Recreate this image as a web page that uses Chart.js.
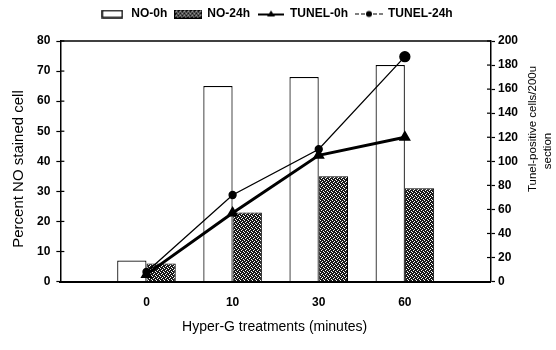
<!DOCTYPE html>
<html>
<head>
<meta charset="utf-8">
<script src="https://cdn.jsdelivr.net/npm/chart.js@4.4.0/dist/chart.umd.min.js"></script>
<style>
html, body { margin: 0; padding: 0; background: #fff; }
#wrap { width: 556px; height: 350px; }
</style>
</head>
<body>
<div id="wrap"><canvas id="myChart"></canvas></div>
<script>
const categories = ['0', '10', '30', '60'];
const noZero = [7, 65, 68, 72];        // % NO stained, 0h
const noDay = [6, 23, 35, 31];         // % NO stained, 24h
const tunelZero = [6, 57, 105, 120];   // tunel-positive cells, 0h
const tunelDay = [8, 72, 110, 187];    // tunel-positive cells, 24h

const FONT = 'Liberation Sans, Arial, sans-serif';

// empty slot on each side, like the original axis
const labels = ['', ...categories, ''];
const pad = arr => [null, ...arr, null];

function hatchPattern() {
    const c = document.createElement('canvas');
    c.width = 4; c.height = 4;
    const g = c.getContext('2d');
    g.fillStyle = '#1a1a1a';
    g.fillRect(0, 0, 4, 4);
    g.fillStyle = '#fff';
    [[0, 0], [2, 1], [1, 2], [3, 3]].forEach(p => g.fillRect(p[0], p[1], 1, 1));
    return c;
}
const hatchTile = hatchPattern();
const hatch = document.createElement('canvas').getContext('2d').createPattern(hatchTile, 'repeat');

function icon(w, h, draw) {
    const c = document.createElement('canvas');
    c.width = w; c.height = h;
    draw(c.getContext('2d'), w, h);
    return c;
}
const iconNoZero = icon(22, 9, (g, w, h) => {
    g.fillStyle = '#fff'; g.fillRect(0, 0, w, h);
    g.strokeStyle = '#000'; g.lineWidth = 1.5; g.strokeRect(1, 1, w - 2, h - 2);
});
const iconNoDay = icon(28, 9, (g, w, h) => {
    g.fillStyle = g.createPattern(hatchTile, 'repeat'); g.fillRect(0, 0, w, h);
    g.strokeStyle = '#000'; g.lineWidth = 1; g.strokeRect(0.5, 0.5, w - 1, h - 1);
});
const iconTunelZero = icon(26, 9, (g, w, h) => {
    g.strokeStyle = '#000'; g.lineWidth = 2;
    g.beginPath(); g.moveTo(0, 5); g.lineTo(w, 5); g.stroke();
    g.fillStyle = '#000';
    g.beginPath(); g.moveTo(w / 2, 1); g.lineTo(w / 2 + 4, 7); g.lineTo(w / 2 - 4, 7); g.closePath(); g.fill();
});
const iconTunelDay = icon(28, 9, (g, w, h) => {
    g.strokeStyle = '#000'; g.lineWidth = 1.2;
    g.setLineDash([4, 2]);
    g.beginPath(); g.moveTo(0, 4.5); g.lineTo(w, 4.5); g.stroke();
    g.fillStyle = '#000';
    g.beginPath(); g.arc(w / 2, 4.5, 3, 0, Math.PI * 2); g.fill();
});
const legendIcons = [iconNoZero, iconNoDay, iconTunelZero, iconTunelDay];

// a bit more room under the legend
const legendGap = {
    id: 'legendGap',
    beforeInit(chart) {
        const fit = chart.legend.fit;
        chart.legend.fit = function () {
            fit.bind(chart.legend)();
            this.height += 11;
        };
    }
};

// top frame line, inner half of the cross ticks and the axis titles
const framePlugin = {
    id: 'frame',
    afterDraw(chart) {
        const { ctx, chartArea: a, scales } = chart;
        ctx.save();
        ctx.strokeStyle = '#000';
        ctx.lineWidth = 1.5;
        ctx.beginPath();
        ctx.moveTo(a.left, a.top);
        ctx.lineTo(a.right, a.top);
        ctx.stroke();
        ctx.lineWidth = 1.2;
        scales.y.ticks.forEach(t => {
            const y = scales.y.getPixelForValue(t.value);
            ctx.beginPath(); ctx.moveTo(a.left, y); ctx.lineTo(a.left + 4, y); ctx.stroke();
        });
        scales.y1.ticks.forEach(t => {
            const y = scales.y1.getPixelForValue(t.value);
            ctx.beginPath(); ctx.moveTo(a.right - 4, y); ctx.lineTo(a.right, y); ctx.stroke();
        });

        ctx.fillStyle = '#000';
        ctx.textAlign = 'center';
        ctx.textBaseline = 'middle';

        ctx.font = '14px ' + FONT;
        ctx.fillText('Hyper-G treatments (minutes)', (a.left + a.right) / 2 - 1, 327);

        ctx.save();
        ctx.font = '15px ' + FONT;
        ctx.translate(19, 169);
        ctx.rotate(-Math.PI / 2);
        ctx.fillText('Percent NO stained cell', 0, 0);
        ctx.restore();

        ctx.save();
        ctx.font = '11.5px ' + FONT;
        ctx.translate(533, 129);
        ctx.rotate(-Math.PI / 2);
        ctx.fillText('Tunel-positive cells/200u', 0, 0);
        ctx.fillText('section', -22, 15);
        ctx.restore();

        ctx.restore();
    }
};

const tickFont = { family: FONT, size: 12, weight: 'bold' };

new Chart(document.getElementById('myChart'), {
    type: 'bar',
    data: {
        labels: labels,
        datasets: [{
            label: 'NO-0h',
            data: pad(noZero),
            backgroundColor: '#fff',
            borderColor: '#000',
            borderWidth: 1.2,
            yAxisID: 'y',
            order: 2
        }, {
            label: 'NO-24h',
            data: pad(noDay),
            backgroundColor: hatch,
            borderColor: '#000',
            borderWidth: 1,
            yAxisID: 'y',
            order: 2
        }, {
            type: 'line',
            label: 'TUNEL-0h',
            data: pad(tunelZero),
            borderColor: '#000',
            backgroundColor: '#000',
            borderWidth: 3,
            pointStyle: 'triangle',
            pointRadius: 4,
            tension: 0,
            yAxisID: 'y1',
            order: 1
        }, {
            type: 'line',
            label: 'TUNEL-24h',
            data: pad(tunelDay),
            borderColor: '#000',
            backgroundColor: '#000',
            borderWidth: 1.3,
            pointStyle: 'circle',
            pointRadius: [0, 3.5, 3.5, 3.5, 5, 0],
            tension: 0,
            yAxisID: 'y1',
            order: 1
        }]
    },
    options: {
        responsive: true,
        maintainAspectRatio: false,
        animation: false,
        layout: { padding: { left: 31, right: 35, top: 0, bottom: 26 } },
        datasets: {
            bar: { categoryPercentage: 0.68, barPercentage: 1 }
        },
        plugins: {
            tooltip: { enabled: false },
            legend: {
                position: 'top',
                labels: {
                    usePointStyle: true,
                    pointStyleWidth: 26,
                    boxHeight: 9,
                    padding: 8,
                    color: '#000',
                    font: { family: FONT, size: 12, weight: 'bold' },
                    generateLabels: chart => chart.data.datasets.map((ds, i) => ({
                        text: ds.label,
                        pointStyle: legendIcons[i],
                        fillStyle: '#fff',
                        strokeStyle: '#000',
                        lineWidth: 0,
                        fontColor: '#000',
                        datasetIndex: i
                    }))
                }
            }
        },
        scales: {
            x: {
                offset: false,
                grid: { display: false, drawTicks: false },
                border: { display: true, color: '#000', width: 2 },
                ticks: { padding: 14, color: '#000', font: tickFont, maxRotation: 0 }
            },
            y: {
                position: 'left',
                min: 0,
                max: 80,
                ticks: { stepSize: 10, padding: 6, color: '#000', font: tickFont },
                grid: { drawOnChartArea: false, color: '#000', tickLength: 4, tickWidth: 1.2 },
                border: { color: '#000', width: 1.5 }
            },
            y1: {
                position: 'right',
                min: 0,
                max: 200,
                ticks: { stepSize: 20, padding: 3, color: '#000', font: tickFont },
                grid: { drawOnChartArea: false, color: '#000', tickLength: 4, tickWidth: 1.2 },
                border: { color: '#000', width: 1.5 }
            }
        }
    },
    plugins: [legendGap, framePlugin]
});
</script>
</body>
</html>
